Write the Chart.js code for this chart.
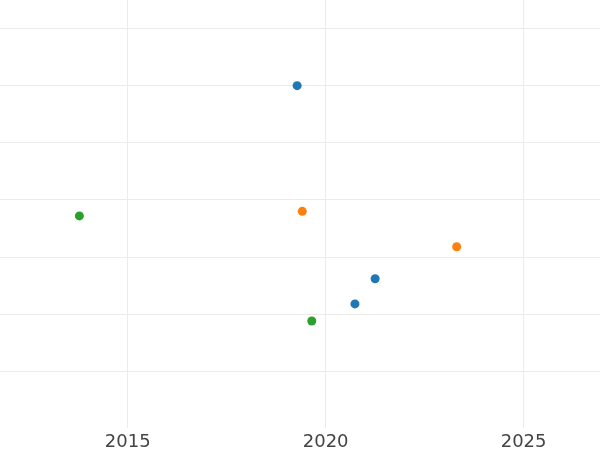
<!DOCTYPE html>
<html>
<head>
<meta charset="utf-8">
<script src="https://cdn.jsdelivr.net/npm/chart.js@4/dist/chart.umd.min.js"></script>
<style>
  html, body { margin: 0; padding: 0; background: #ffffff; }
  #wrap { width: 600px; height: 450px; }
</style>
</head>
<body>
<div id="wrap"><canvas id="c" width="600" height="450"></canvas></div>
<script>
// Data
const seriesNames = ["Series 1", "Series 2", "Series 3"];
const series1X = [2019.28, 2020.74, 2021.25];
const series1Y = [6.0, 2.18, 2.62];
const series2X = [2019.41, 2023.31];
const series2Y = [3.80, 3.18];
const series3X = [2013.78, 2019.65];
const series3Y = [3.72, 1.88];
const xTicks = [2015, 2020, 2025];
const yTicks = [1, 2, 3, 4, 5, 6, 7];

const colors = ["#1f77b4", "#ff7f0e", "#2ca02c"];
const xs = [series1X, series2X, series3X];
const ys = [series1Y, series2Y, series3Y];

const datasets = seriesNames.map((name, i) => ({
  label: name,
  data: xs[i].map((x, j) => ({ x: x, y: ys[i][j] })),
  backgroundColor: colors[i],
  borderColor: colors[i],
  pointRadius: 4.5,
  pointHoverRadius: 4.5,
  borderWidth: 0
}));

new Chart(document.getElementById("c"), {
  type: "scatter",
  data: { datasets: datasets },
  options: {
    responsive: false,
    animation: false,
    layout: { padding: { top: 0, left: 0, right: 0, bottom: -6 }, autoPadding: false },
    plugins: { legend: { display: false }, tooltip: { enabled: false } },
    scales: {
      x: {
        type: "linear",
        min: 2011.775,
        max: 2026.93,
        afterBuildTicks: (s) => { s.ticks = xTicks.map(v => ({ value: v })); },
        grid: { color: "#ebebeb", lineWidth: 1, drawTicks: false },
        border: { display: false },
        ticks: {
          padding: 3,
          color: "#444444",
          font: { family: "DejaVu Sans", size: 18 },
          maxRotation: 0,
          callback: (v) => String(v)
        }
      },
      y: {
        type: "linear",
        min: 0,
        max: 7.5,
        afterBuildTicks: (s) => { s.ticks = yTicks.map(v => ({ value: v })); },
        grid: { color: "#ebebeb", lineWidth: 1, drawTicks: false },
        border: { display: false },
        ticks: { display: false }
      }
    }
  }
});
</script>
</body>
</html>
